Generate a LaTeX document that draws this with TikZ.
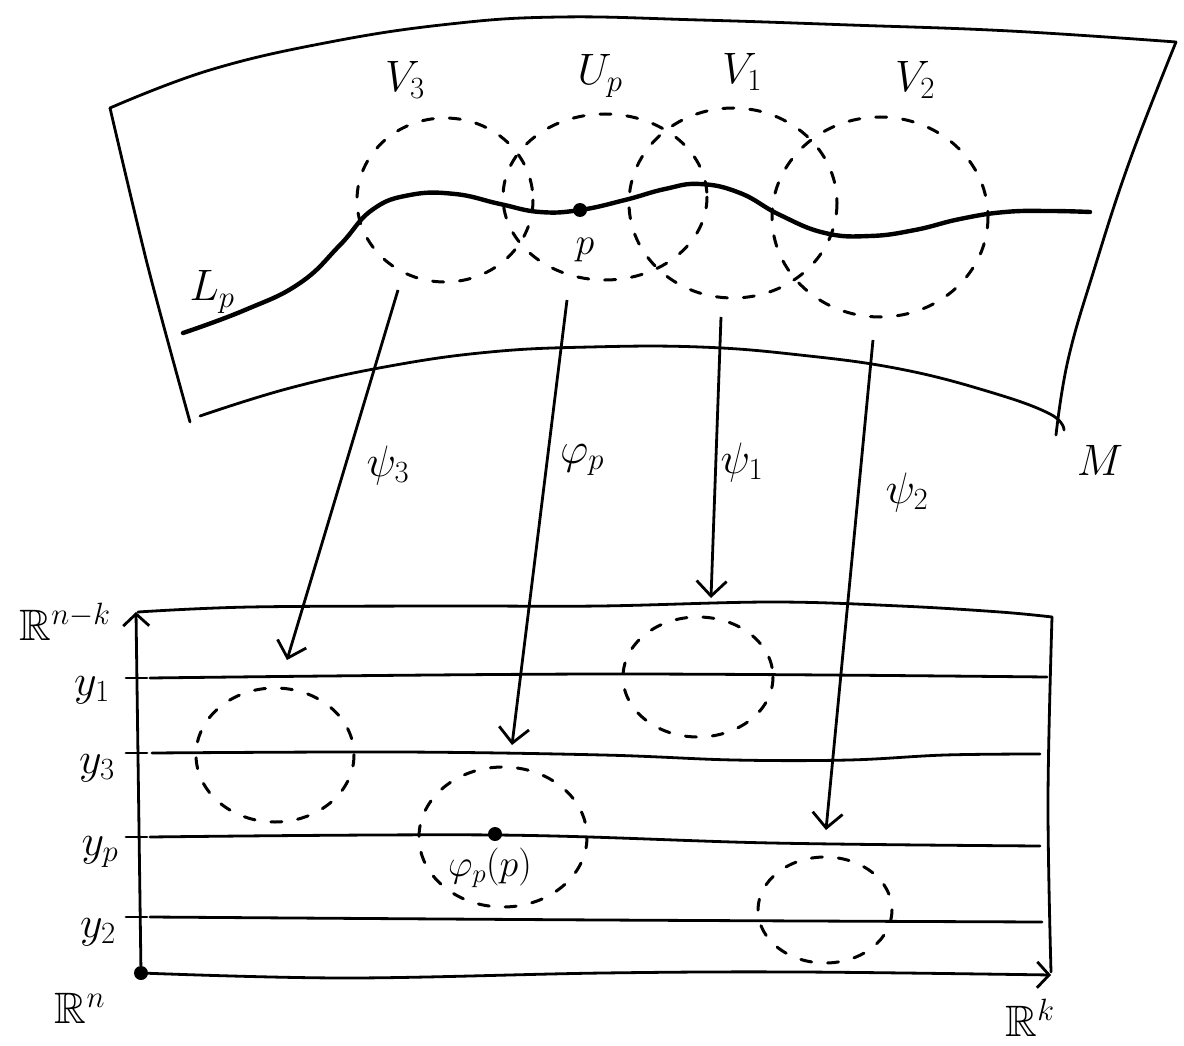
\RequirePackage{fix-cm}
\documentclass[tikz,border=0pt]{standalone}
\usepackage{amssymb}
\usetikzlibrary{arrows.meta}
\begin{document}
\begin{tikzpicture}[x=1pt,y=-1pt,
  edge/.style={line width=2.8pt, line cap=round, line join=round},
  leaf/.style={line width=4.4pt, line cap=round},
  dashc/.style={line width=3pt, dash pattern=on 11pt off 16pt, line cap=round},
  maparrow/.style={line width=2.8pt, -{Straight Barb[length=15pt,width=30pt,line width=2.8pt]}},
  axisarrow/.style={line width=2.8pt, -{Straight Barb[length=12pt,width=26pt,line width=2.8pt]}},
  lab/.style={font=\fontsize{44}{52}\selectfont, inner sep=0pt},
  slab/.style={font=\fontsize{38}{46}\selectfont, inner sep=0pt},
  dotc/.style={fill=black, circle, inner sep=0pt, minimum size=14pt}]
\useasboundingbox (0,0) rectangle (1184,1046);

% ---------- manifold M ----------
\draw[edge] plot[smooth, tension=0.7] coordinates {(110,108) (210,70) (330,42) (450,24) (560,17) (700,20) (850,25) (1010,31) (1176,42)};
\draw[edge] plot[smooth, tension=0.5] coordinates {(110,108) (148,267) (190,422)};
\draw[edge] plot[smooth, tension=0.7] coordinates {(1176,42) (1130,160) (1094,270) (1068,360) (1056,435)};
\draw[edge] plot[smooth, tension=0.7] coordinates {(200,416) (290,388) (390,366) (490,352) (590,347) (700,347) (800,355) (900,369) (990,392) (1050,414) (1064,430)};

% leaf L_p
\draw[leaf] plot[smooth, tension=0.75] coordinates {(183,333) (245,310) (300,283) (340,245) (372,210) (410,195) (455,194) (500,204) (540,212) (580,210) (625,200) (665,189) (700,184) (740,193) (780,215) (825,233) (870,236) (915,230) (960,219) (1005,212) (1050,211) (1090,212)};
\node[dotc] (p) at (580,210) {};

% dashed neighbourhoods
\draw[dashc] (445,200) ellipse [x radius=88, y radius=82];
\draw[dashc] (605,197) ellipse [x radius=102, y radius=83];
\draw[dashc] (733,203) ellipse [x radius=104, y radius=95];
\draw[dashc] (880,217) ellipse [x radius=108, y radius=100];

% labels top
\node[lab] (lV3) at (405,80) {$V_3$};
\node[lab] (lUp) at (600,76) {$U_p$};
\node[lab] (lV1) at (742,72) {$V_1$};
\node[lab] (lV2) at (915,80) {$V_2$};
\node[lab] (lLp) at (212,292) {$L_p$};
\node[slab] (lp) at (585,250) {$p$};
\node[lab] (lM) at (1100,460) {$M$};

% ---------- R^n ----------
\node[dotc] (O) at (141,973) {};
\coordinate (Ytop) at (136,612);
\coordinate (Xend) at (1051,975);
\draw[axisarrow] (O) -- (Ytop);
\draw[edge] plot[smooth, tension=0.6] coordinates {(138,612) (250,607) (450,606) (600,606) (772,602) (900,606) (1000,612) (1052,617)};
\draw[edge] plot[smooth, tension=0.6] coordinates {(1052,617) (1048,800) (1051,972)};
\draw[axisarrow] plot[smooth, tension=0.6] coordinates {(141,973) (346,978) (603,973) (800,972) (1051,975)};

% horizontal slices with ticks
\draw[edge] plot[smooth, tension=0.6] coordinates {(150,678) (603,674) (1047,677)};
\draw[edge] plot[smooth, tension=0.6] coordinates {(152,753) (400,752) (603,755) (734,760) (849,760) (945,755) (1040,754)};
\draw[edge] plot[smooth, tension=0.6] coordinates {(150,837) (496,835) (772,843) (1040,846)};
\draw[edge] plot[smooth, tension=0.6] coordinates {(150,917) (603,920) (1042,922)};
\foreach \yy in {678,753,837,917} \draw[edge] (126,\yy) -- (147,\yy);

% images of the neighbourhoods
\draw[dashc] (275,755) ellipse [x radius=79, y radius=67];
\draw[dashc] (503,837) ellipse [x radius=84, y radius=70];
\draw[dashc] (698,677) ellipse [x radius=75, y radius=60];
\draw[dashc] (825,910) ellipse [x radius=67, y radius=53];
\node[dotc] (phip) at (495,834) {};
\node[slab] (lphip) at (490,868) {$\varphi_p(p)$};

% labels bottom
\node[lab] (lRnk) at (65,622) {$\mathbb{R}^{n-k}$};
\node[lab] (ly1) at (92,690) {$y_1$};
\node[lab] (ly3) at (97,768) {$y_3$};
\node[lab] (lyp) at (100,852) {$y_p$};
\node[lab] (ly2) at (98,932) {$y_2$};
\node[lab] (lRn) at (80,1008) {$\mathbb{R}^n$};
\node[lab] (lRk) at (1030,1018) {$\mathbb{R}^k$};

% ---------- chart maps ----------
\coordinate (s3) at (398,290);  \coordinate (t3) at (287,660);
\coordinate (sp) at (567,300);  \coordinate (tp) at (512,745);
\coordinate (s1) at (721,317);  \coordinate (t1) at (711,598);
\coordinate (s2) at (873,340);  \coordinate (t2) at (826,830);
\draw[maparrow] (s3) -- (t3);
\draw[maparrow] (sp) -- (tp);
\draw[maparrow] (s1) -- (t1);
\draw[maparrow] (s2) -- (t2);
\node[lab] (lpsi3) at (388,465) {$\psi_3$};
\node[lab] (lphi) at (582,460) {$\varphi_p$};
\node[lab] (lpsi1) at (742,462) {$\psi_1$};
\node[lab] (lpsi2) at (907,492) {$\psi_2$};
\end{tikzpicture}
\end{document}
